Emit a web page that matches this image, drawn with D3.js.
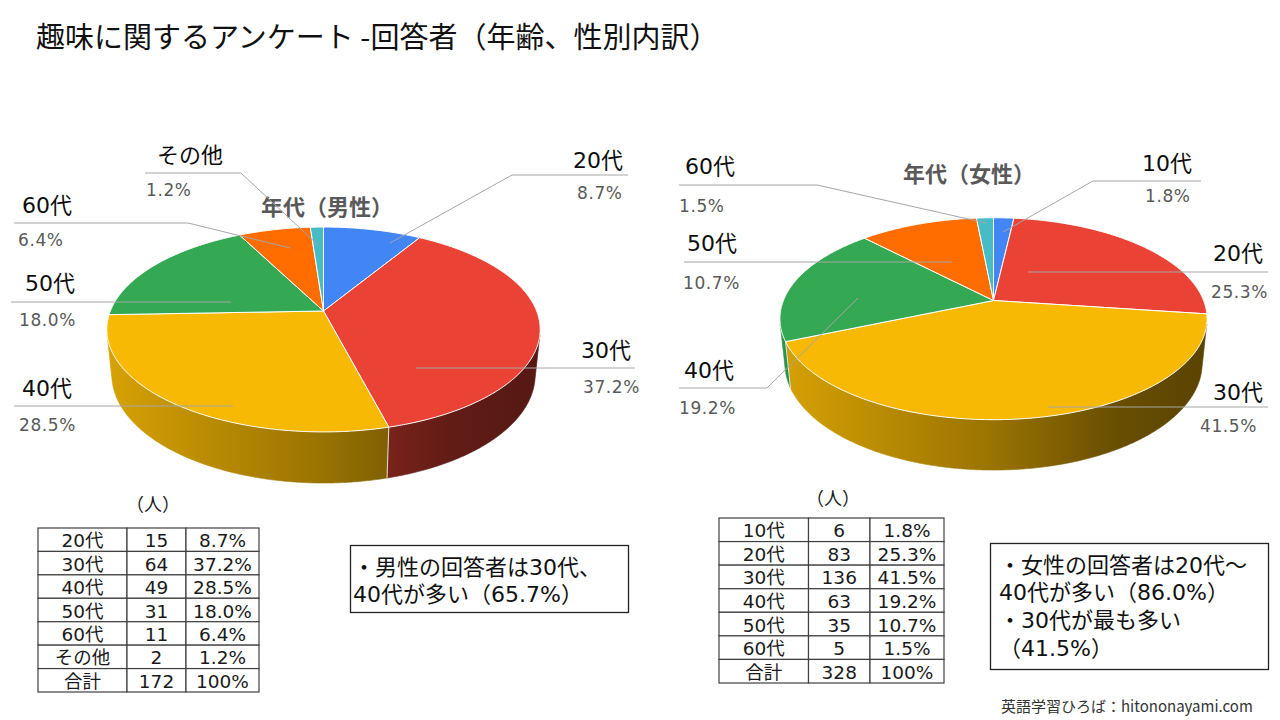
<!DOCTYPE html>
<html><head><meta charset="utf-8">
<script src="https://cdn.jsdelivr.net/npm/d3@7"></script>
<style>
html,body{margin:0;padding:0;background:#fff;}
svg{display:block;font-family:"Noto Sans CJK JP","Noto Sans",sans-serif;}
.w{font-family:"DejaVu Sans","Noto Sans CJK JP",sans-serif;}
</style></head><body>
<svg id="c" width="1280" height="720"></svg>
<script>
// ---------------- data ----------------
const pageTitle = "趣味に関するアンケート -回答者（年齢、性別内訳）";
const maleTitle = "年代（男性）";
const femaleTitle = "年代（女性）";
const maleCategories = ["20代","30代","40代","50代","60代","その他"];
const maleCounts = [15, 64, 49, 31, 11, 2];
const malePercents = ["8.7%","37.2%","28.5%","18.0%","6.4%","1.2%"];
const maleTotalRow = ["合計", 172, "100%"];
const femaleCategories = ["10代","20代","30代","40代","50代","60代"];
const femaleCounts = [6, 83, 136, 63, 35, 5];
const femalePercents = ["1.8%","25.3%","41.5%","19.2%","10.7%","1.5%"];
const femaleTotalRow = ["合計", 328, "100%"];
const sliceColors = ["#4285F4","#EA4335","#F7B904","#34A853","#FF6D01","#46BDC6"];
const unitLabel = "（人）";
const maleNote = ["・男性の回答者は30代、", "40代が多い（65.7%）"];
const femaleNote = ["・女性の回答者は20代～", "40代が多い（86.0%）", "・30代が最も多い", "（41.5%）"];
const footerText = "英語学習ひろば：hitononayami.com";

// ---------------- layout (positions only) ----------------
const maleLayout = {
  pie: {cx: 323.5, cy: 311, F: 1046, D: 4.908, elev: Math.asin(0.465), H: 0.243},
  title: [327, 205],
  labels: [ // name [x,y], pct [x,y], leader polyline
    {n:[573,160], p:[577,193], l:[[628,175],[512,175],[390,243]]},
    {n:[581,350], p:[583,387], l:[[635,368],[416,368]]},
    {n:[22,388],  p:[19,425],  l:[[14,406],[233,406]]},
    {n:[25,283],  p:[19,320],  l:[[11,302],[231,302]]},
    {n:[22,205],  p:[18,240],  l:[[14,223],[188,223],[290,248]]},
    {n:[157,155], p:[146,190], l:[[145,173],[241,173],[318,245]]}
  ],
  table: {cols:[38,127,186,259], top:528, bottom:692, unit:[153,503]},
  note: {x:350.5, y:545.5, w:278, h:67, tx:353, ty:567, lh:27}
};
const femaleLayout = {
  pie: {cx: 993.5, cy: 300.5, F: 1031, D: 4.908, elev: Math.asin(0.465), H: 0.243},
  title: [969, 172],
  labels: [
    {n:[1142,163], p:[1145,196], l:[[1201,181],[1093,181],[1003,232]]},
    {n:[1213,253], p:[1211,292], l:[[1268,272],[1028,272]]},
    {n:[1213,392], p:[1200,426], l:[[1268,407],[1048,407]]},
    {n:[684,370],  p:[679,408],  l:[[679,388],[767,388],[858,298]]},
    {n:[687,243],  p:[683,283],  l:[[684,262],[952,262]]},
    {n:[685,166],  p:[679,206],  l:[[679,185],[817,185],[986,223]]}
  ],
  table: {cols:[719,808.5,870,944], top:518, bottom:683, unit:[833,497]},
  note: {x:990.5, y:543.5, w:278, h:126, tx:999, ty:565, lh:27.7}
};

const svg = d3.select("#c");
const defs = svg.append("defs");

svg.append("text").attr("x", 36).attr("y", 35).attr("dominant-baseline","central")
  .attr("font-size", 29).attr("fill", "#111").text(pageTitle);

function shade(col, k){ const c = d3.rgb(col); return d3.rgb(c.r*k, c.g*k, c.b*k).formatHex(); }

function drawPie(id, counts, cats, pcts, title, L){
  const P = L.pie;
  const s = Math.sin(P.elev), c = Math.cos(P.elev);
  const proj = (a, r, Y) => {
    const X = r*Math.sin(a), Z = -r*Math.cos(a);
    const d = P.D - Y*s - Z*c;
    return [P.cx + P.F*X/d, P.cy - P.F*(Y*c - Z*s)/d];
  };
  const arcs = d3.pie().sort(null).value(d => d)(counts);
  const g = svg.append("g");
  const xl = P.cx - P.F/P.D*1.05, xr = P.cx + P.F/P.D*1.05;
  const kScale = d3.scaleLinear().domain([0, 0.5, 0.78, 1]).range([0.88, 0.62, 0.42, 0.36]);
  sliceColors.forEach((col, i) => {
    const gr = defs.append("linearGradient").attr("id", `${id}g${i}`)
      .attr("gradientUnits","userSpaceOnUse").attr("x1", xl).attr("x2", xr).attr("y1",0).attr("y2",0);
    kScale.domain().forEach(t => gr.append("stop").attr("offset", t).attr("stop-color", shade(col, kScale(t))));
  });
  const kz = 1/(P.D*c);
  const vis0 = Math.acos(-kz), vis1 = 2*Math.PI - Math.acos(-kz);
  const step = Math.PI/360;
  const sample = (a0, a1, r, Y) => {
    const n = Math.max(2, Math.ceil((a1-a0)/step));
    return d3.range(n+1).map(j => proj(a0 + (a1-a0)*j/n, r, Y));
  };
  const line = d3.line();
  arcs.forEach((a, i) => {
    const a0 = Math.max(a.startAngle, vis0), a1 = Math.min(a.endAngle, vis1);
    if (a1 <= a0) return;
    const pts = sample(a0, a1, 1, 0).concat(sample(a0, a1, 1, -P.H).reverse());
    g.append("path").attr("d", line(pts) + "Z").attr("fill", `url(#${id}g${i})`)
      .attr("stroke", `url(#${id}g${i})`).attr("stroke-width", 0.6);
  });
  arcs.forEach(a => {
    const ang = a.startAngle;
    if (ang > vis0 && ang < vis1) {
      g.append("path").attr("d", line([proj(ang,1,0), proj(ang,1,-P.H)]))
        .attr("stroke", "#fff").attr("stroke-width", 1).attr("stroke-opacity", 0.8);
    }
  });
  arcs.forEach((a, i) => {
    const pts = [proj(0,0,0)].concat(sample(a.startAngle, a.endAngle, 1, 0));
    g.append("path").attr("d", line(pts) + "Z").attr("fill", sliceColors[i])
      .attr("stroke", "#fff").attr("stroke-width", 1).attr("stroke-linejoin","round");
  });
  svg.append("text").attr("x", L.title[0]).attr("y", L.title[1]).attr("text-anchor","middle")
    .attr("dominant-baseline","central").attr("font-size", 22).attr("font-weight","bold")
    .attr("fill","#595959").text(title);
  cats.forEach((cat, i) => {
    const lb = L.labels[i];
    svg.append("path").attr("d", line(lb.l)).attr("fill","none")
      .attr("stroke","#a6a6a6").attr("stroke-width",1);
    svg.append("text").attr("class","w").attr("x", lb.n[0]).attr("y", lb.n[1]).attr("dominant-baseline","central")
      .attr("font-size", 22).attr("fill","#0d0d0d").text(cat);
    svg.append("text").attr("class","w").attr("x", lb.p[0]).attr("y", lb.p[1]).attr("dominant-baseline","central")
      .attr("font-size", 17).attr("fill","#595959").attr("letter-spacing", 0.6).text(pcts[i]);
  });
}

function drawTable(cats, counts, pcts, totalRow, T){
  const rows = cats.map((cName, i) => [cName, counts[i], pcts[i]]).concat([totalRow]);
  const y = d3.scaleBand().domain(d3.range(rows.length)).range([T.top, T.bottom]);
  const g = svg.append("g");
  rows.forEach((r, i) => {
    r.forEach((v, j) => {
      g.append("rect").attr("x", T.cols[j]).attr("y", y(i)).attr("width", T.cols[j+1]-T.cols[j])
        .attr("height", y.bandwidth()).attr("fill","#fff").attr("stroke","#404040").attr("stroke-width",1.2);
      g.append("text").attr("class","w").attr("x", (T.cols[j]+T.cols[j+1])/2).attr("y", y(i)+y.bandwidth()/2+1)
        .attr("text-anchor","middle").attr("dominant-baseline","central")
        .attr("font-size", 18.5).attr("fill","#1a1a1a").text(v);
    });
  });
  svg.append("text").attr("x", T.unit[0]).attr("y", T.unit[1]).attr("text-anchor","middle")
    .attr("dominant-baseline","central").attr("font-size", 18).attr("fill","#1a1a1a").text(unitLabel);
}

function drawNote(lines, N){
  svg.append("rect").attr("x", N.x).attr("y", N.y).attr("width", N.w).attr("height", N.h)
    .attr("fill","#fff").attr("stroke","#222").attr("stroke-width",1.3);
  lines.forEach((t, i) => {
    svg.append("text").attr("class","w").attr("x", N.tx).attr("y", N.ty + i*N.lh).attr("dominant-baseline","central")
      .attr("font-size", 22).attr("fill","#111").text(t);
  });
}

drawPie("m", maleCounts, maleCategories, malePercents, maleTitle, maleLayout);
drawPie("f", femaleCounts, femaleCategories, femalePercents, femaleTitle, femaleLayout);
drawTable(maleCategories, maleCounts, malePercents, maleTotalRow, maleLayout.table);
drawTable(femaleCategories, femaleCounts, femalePercents, femaleTotalRow, femaleLayout.table);
drawNote(maleNote, maleLayout.note);
drawNote(femaleNote, femaleLayout.note);
svg.append("text").attr("x", 1001).attr("y", 705).attr("dominant-baseline","central")
  .attr("font-size", 15).attr("fill","#333").text(footerText);
</script>
</body></html>
